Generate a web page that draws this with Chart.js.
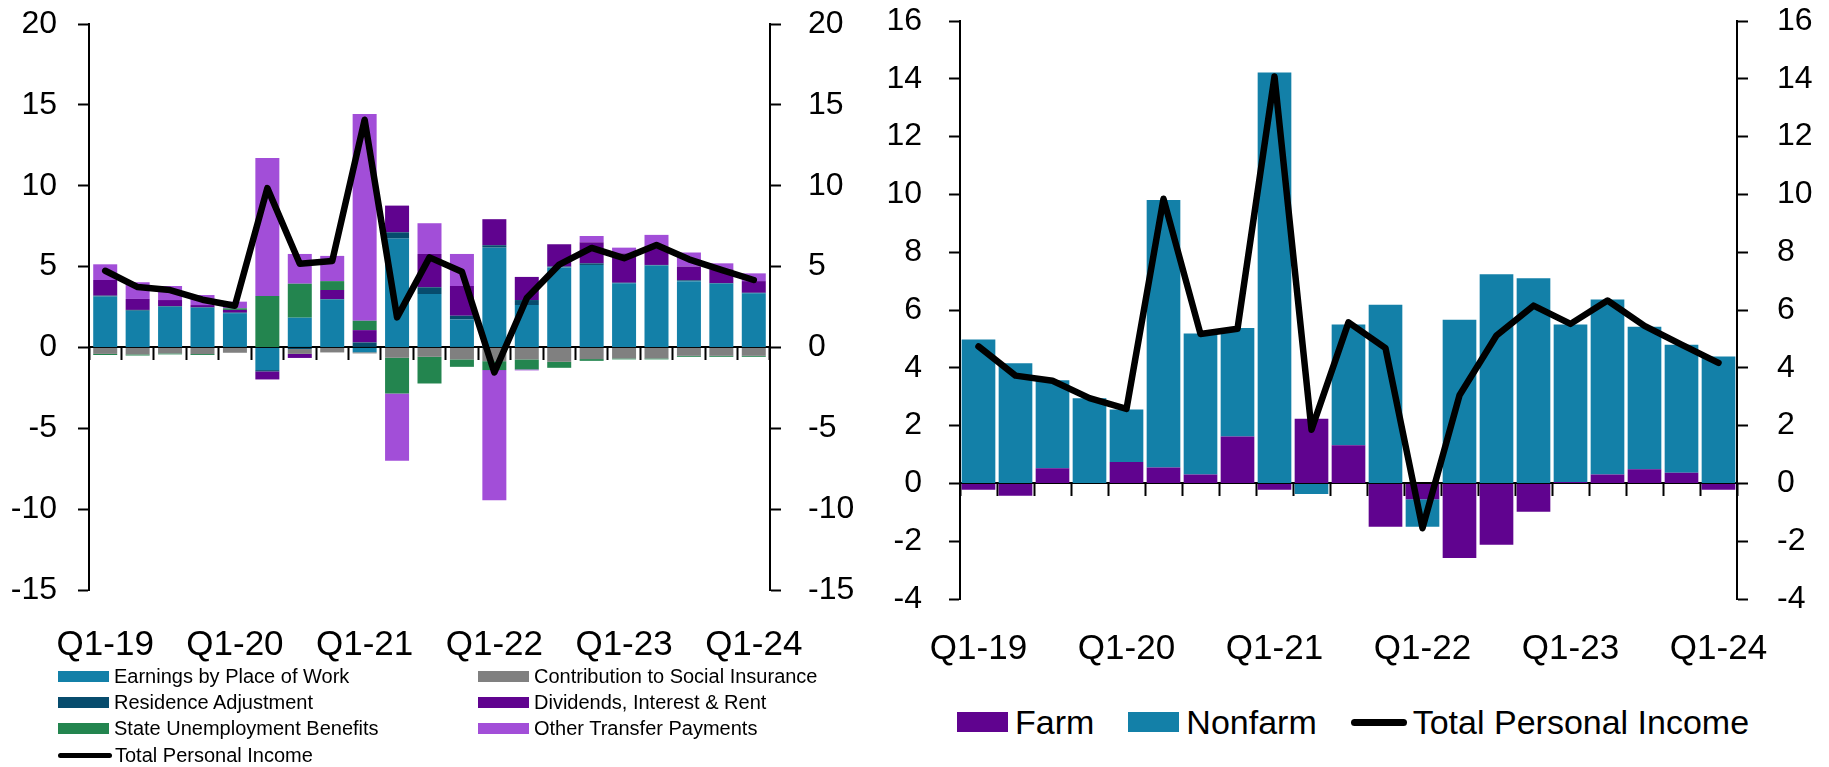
<!DOCTYPE html>
<html>
<head>
<meta charset="utf-8">
<script src="https://cdn.jsdelivr.net/npm/chart.js@4.4.1/dist/chart.umd.min.js"></script>
<style>
  body { margin: 0; background: #fff; width: 1829px; height: 767px; overflow: hidden; position: relative;
         font-family: "Liberation Sans", Arial, sans-serif; color: #000; }
  #left { position: absolute; left: 0; top: 0; }
  #right { position: absolute; left: 850px; top: 0; }
  #legLeft { position: absolute; left: 58px; top: 663px; display: grid; grid-template-columns: 420px auto;
             grid-auto-rows: 26.4px; font-size: 20px; }
  #legRight { position: absolute; left: 957px; top: 705px; display: flex; align-items: center; font-size: 34px; line-height: 34px; }
  .item { display: flex; align-items: center; white-space: nowrap; }
  #legRight .item { margin-right: 34px; }
</style>
</head>
<body>
<canvas id="left" width="880" height="680"></canvas>
<canvas id="right" width="979" height="680"></canvas>
<div id="legLeft"></div>
<div id="legRight"></div>
<script>
// quarters Q1-19 .. Q1-24
const quarters = ['Q1-19', 'Q2-19', 'Q3-19', 'Q4-19', 'Q1-20', 'Q2-20', 'Q3-20', 'Q4-20',
  'Q1-21', 'Q2-21', 'Q3-21', 'Q4-21', 'Q1-22', 'Q2-22', 'Q3-22', 'Q4-22',
  'Q1-23', 'Q2-23', 'Q3-23', 'Q4-23', 'Q1-24'];

// left chart components
const earnings = [3.15, 2.27, 2.52, 2.45, 2.12, -1.40, 1.84, 2.96, -0.30, 6.73, 3.30, 1.73, 6.17, 2.62, 4.95, 5.10, 3.97, 5.07, 4.10, 3.95, 3.35];
const residence = [0.05, 0.05, 0.04, 0.03, 0.03, -0.08, -0.10, 0.03, 0.31, 0.39, 0.42, 0.23, 0.15, 0.31, 0.05, 0.10, 0.03, 0.03, 0.05, 0.03, 0.03];
const contribution = [-0.40, -0.43, -0.37, -0.41, -0.33, 0.00, -0.30, -0.31, -0.07, -0.64, -0.58, -0.74, -0.85, -0.74, -0.89, -0.72, -0.68, -0.68, -0.52, -0.52, -0.52];
const dividends = [0.97, 0.68, 0.37, 0.14, 0.17, -0.50, -0.25, 0.56, 0.76, 1.65, 2.06, 1.84, 1.61, 1.43, 1.38, 1.30, 1.82, 1.03, 0.85, 0.85, 0.72];
const stateUnemp = [-0.07, -0.07, -0.06, -0.06, 0.10, 3.18, 2.10, 0.55, 0.58, -2.21, -1.65, -0.46, -0.55, -0.62, -0.37, -0.11, -0.06, -0.06, -0.06, -0.06, -0.06];
const otherTransfer = [0.97, 1.03, 0.87, 0.62, 0.41, 8.54, 1.84, 1.56, 12.78, -4.15, 1.90, 1.98, -8.05, -0.06, 0.00, 0.39, 0.35, 0.83, 0.87, 0.37, 0.48];

// right chart components
const farm = [-0.22, -0.43, 0.52, 0.00, 0.74, 0.55, 0.31, 1.62, -0.22, 2.24, 1.32, -1.50, -0.55, -2.58, -2.12, -0.98, 0.05, 0.31, 0.49, 0.37, -0.22];
const nonfarm = [4.98, 4.16, 3.05, 2.95, 1.82, 9.26, 4.88, 3.76, 14.22, -0.37, 4.18, 6.18, -0.95, 5.66, 7.24, 7.10, 5.45, 6.05, 4.93, 4.43, 4.39];

// total personal income (both charts)
const total = [4.74, 3.73, 3.55, 2.95, 2.58, 9.85, 5.17, 5.35, 14.08, 1.86, 5.57, 4.68, -1.55, 3.05, 5.12, 6.15, 5.52, 6.33, 5.45, 4.80, 4.17];

const leftTicks = [-15, 20, 5];
const rightTicks = [-4, 16, 2];

Chart.defaults.font.family = '"Liberation Sans", Arial, sans-serif';
Chart.defaults.color = '#000';
Chart.defaults.animation = false;

function yAxis(range, side, width, pad) {
  return {
    position: side, min: range[0], max: range[1], stacked: true,
    ticks: { stepSize: range[2], font: { size: 32 }, padding: pad },
    grid: { drawOnChartArea: false, tickLength: 11, tickWidth: 2, tickColor: '#000' },
    border: { color: '#000', width: 2 },
    afterFit(s) {
      s.width = width;
      s.paddingTop = 0;
      s.paddingBottom = 0;
    }
  };
}

function zeroAxis() {
  return {
    type: 'category', position: { y: 0 }, stacked: true, offset: true,
    ticks: { display: false },
    grid: { offset: true, drawOnChartArea: false, tickLength: 12, tickWidth: 2, tickColor: '#000' },
    border: { color: '#000', width: 2 }
  };
}

function labelAxis(height, pad) {
  return {
    type: 'category', position: 'bottom', offset: true,
    grid: { display: false, drawTicks: false },
    border: { display: false },
    ticks: {
      autoSkip: false, maxRotation: 0, font: { size: 35 }, padding: pad,
      callback(v, i) { return i % 4 === 0 ? this.getLabelForValue(v) : ''; }
    },
    afterFit(s) { s.height = height; }
  };
}

function totalLine() {
  return {
    type: 'line', label: 'Total Personal Income', data: total, stack: 'total', order: 0,
    borderColor: '#000', backgroundColor: '#000', borderWidth: 6.5,
    pointRadius: 0, tension: 0, borderJoinStyle: 'round', borderCapStyle: 'round'
  };
}

function bar(label, data, color, pct) {
  return { type: 'bar', label, data, backgroundColor: color, order: 1, barPercentage: pct, categoryPercentage: 1 };
}

const leftChart = new Chart(document.getElementById('left'), {
  type: 'bar',
  data: {
    labels: quarters,
    datasets: [
      totalLine(),
      bar('Earnings by Place of Work', earnings, '#1380a8', 0.74),
      bar('Residence Adjustment', residence, '#074c6d', 0.74),
      bar('Contribution to Social Insurance', contribution, '#808080', 0.74),
      bar('Dividends, Interest & Rent', dividends, '#60038f', 0.74),
      bar('State Unemployment Benefits', stateUnemp, '#23854f', 0.74),
      bar('Other Transfer Payments', otherTransfer, '#a24ed8', 0.74)
    ]
  },
  options: {
    responsive: false,
    layout: { padding: { top: 24 } },
    plugins: { legend: { display: false }, tooltip: { enabled: false } },
    scales: {
      x: zeroAxis(),
      xl: labelAxis(90, 34),
      y: yAxis(leftTicks, 'left', 89, 21),
      y2: yAxis(leftTicks, 'right', 110, 27)
    }
  }
});

const rightChart = new Chart(document.getElementById('right'), {
  type: 'bar',
  data: {
    labels: quarters,
    datasets: [
      totalLine(),
      bar('Farm', farm, '#60038f', 0.91),
      bar('Nonfarm', nonfarm, '#1380a8', 0.91)
    ]
  },
  options: {
    responsive: false,
    layout: { padding: { top: 21 } },
    plugins: { legend: { display: false }, tooltip: { enabled: false } },
    scales: {
      x: zeroAxis(),
      xl: labelAxis(81, 29),
      y: yAxis(rightTicks, 'left', 110, 27),
      y2: yAxis(rightTicks, 'right', 92, 29)
    }
  }
});

// html legends built from the chart datasets
function swatch(ds, big) {
  const s = document.createElement('span');
  s.style.display = 'inline-block';
  if (ds.type === 'line') {
    s.style.width = big ? '56px' : '54px';
    s.style.height = big ? '7px' : '5px';
    s.style.borderRadius = '4px';
    s.style.background = ds.borderColor;
    s.style.marginRight = big ? '6px' : '3px';
  } else {
    s.style.width = '51px';
    s.style.height = big ? '20px' : '11px';
    s.style.background = ds.backgroundColor;
    s.style.marginRight = big ? '7px' : '5px';
  }
  return s;
}

function buildLegend(el, chart, order, big) {
  order.forEach(i => {
    const ds = chart.data.datasets[i];
    const item = document.createElement('div');
    item.className = 'item';
    item.appendChild(swatch(ds, big));
    item.appendChild(document.createTextNode(ds.label));
    el.appendChild(item);
  });
}

buildLegend(document.getElementById('legLeft'), leftChart, [1, 3, 2, 4, 5, 6, 0], false);
buildLegend(document.getElementById('legRight'), rightChart, [1, 2, 0], true);
</script>
</body>
</html>
